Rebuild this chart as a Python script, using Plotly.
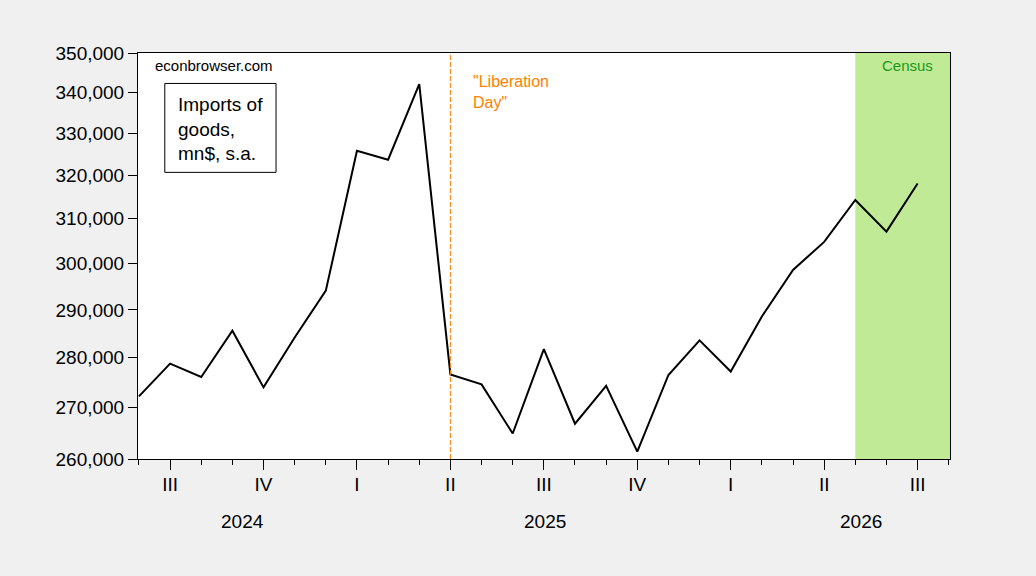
import plotly.graph_objects as go

# ---- data ----
months = ["2024-06", "2024-07", "2024-08", "2024-09", "2024-10", "2024-11", "2024-12",
          "2025-01", "2025-02", "2025-03", "2025-04", "2025-05", "2025-06", "2025-07",
          "2025-08", "2025-09", "2025-10", "2025-11", "2025-12", "2026-01", "2026-02",
          "2026-03", "2026-04", "2026-05", "2026-06", "2026-07"]
imports = [272200, 278800, 276100, 285600, 274000, 284200, 294100,
           325800, 323700, 342100, 276600, 274600, 264900, 281800,
           266800, 274300, 261400, 276500, 283600, 277200, 288600,
           298600, 304800, 314300, 307100, 318100]
quarter_labels = ["III", "IV", "I", "II", "III", "IV", "I", "II", "III"]
quarter_idx = [1, 4, 7, 10, 13, 16, 19, 22, 25]
year_labels = ["2024", "2025", "2026"]
year_pos = [3.32, 13.05, 23.17]
y_ticks = [260000, 270000, 280000, 290000, 300000, 310000, 320000, 330000, 340000, 350000]
liberation_idx = 10
census_start_idx = 23

x = list(range(len(imports)))
x_range = [-0.03, 26.04]

fig = go.Figure()
fig.add_trace(go.Scatter(x=x, y=imports, mode="lines",
                         line=dict(color="black", width=2),
                         text=months, hoverinfo="text+y", showlegend=False))

FONT = "Liberation Sans, Arial, sans-serif"

fig.update_layout(
    width=1036, height=576,
    paper_bgcolor="#f0f0f0", plot_bgcolor="white",
    margin=dict(l=137.5, r=86, t=52.7, b=116.7, autoexpand=False),
    font=dict(family=FONT, size=19, color="black"),
    showlegend=False,
    xaxis=dict(range=x_range, showgrid=False, zeroline=False,
               tickvals=quarter_idx, ticktext=quarter_labels,
               ticks="outside", ticklen=10, tickwidth=1, tickcolor="black",
               showline=True, linecolor="black", linewidth=1, mirror=True,
               tickfont=dict(size=19, color="black"), ticklabelstandoff=-2,
               minor=dict(dtick=1, tick0=0, ticks="outside", ticklen=5,
                          tickwidth=1, tickcolor="black", showgrid=False)),
    yaxis=dict(type="log", range=[5.414973, 5.544068], showgrid=False, zeroline=False,
               tickvals=y_ticks, tickformat=",d",
               ticks="outside", ticklen=9, tickwidth=1, tickcolor="black",
               showline=True, linecolor="black", linewidth=1, mirror=True,
               tickfont=dict(size=19, color="black")),
)

# Census shading
fig.add_shape(type="rect", xref="x", yref="paper",
              x0=census_start_idx, x1=x_range[1], y0=0, y1=1,
              fillcolor="rgb(192,234,150)", line=dict(width=0), layer="below")

# Liberation Day line
fig.add_shape(type="line", xref="x", yref="paper",
              x0=liberation_idx, x1=liberation_idx, y0=0, y1=1,
              line=dict(color="#ff8000", width=1, dash="5px,2px"))

# Box around series label
fig.add_shape(type="rect", xref="paper", yref="paper",
              x0=0.033, x1=0.170, y0=0.706, y1=0.925,
              line=dict(color="black", width=1), fillcolor="white")

fig.add_annotation(xref="paper", yref="paper", x=0.047, y=0.812,
                   xanchor="left", yanchor="middle", align="left", showarrow=False,
                   text="Imports of<br>goods,<br>mn$, s.a.",
                   font=dict(size=19, color="black", family=FONT))

fig.add_annotation(xref="paper", yref="paper", x=0.0185, y=0.968,
                   xanchor="left", yanchor="middle", showarrow=False,
                   text="econbrowser.com",
                   font=dict(size=15, color="black", family=FONT))

fig.add_annotation(xref="paper", yref="paper", x=0.4095, y=0.904,
                   xanchor="left", yanchor="middle", align="left", showarrow=False,
                   text="\"Liberation<br>Day\"",
                   font=dict(size=16, color="#ff8000", family=FONT))

fig.add_annotation(xref="paper", yref="paper", x=0.981, y=0.968,
                   xanchor="right", yanchor="middle", showarrow=False,
                   text="Census",
                   font=dict(size=15, color="#1a9a1a", family=FONT))

for lab, pos in zip(year_labels, year_pos):
    fig.add_annotation(xref="x", yref="paper", x=pos, y=-0.1535,
                       xanchor="center", yanchor="middle", showarrow=False,
                       text=lab, font=dict(size=19, color="black", family=FONT))

fig.write_html("out.html",
               config={"displayModeBar": False},
               post_script="document.body.style.margin='0px';"
                           "document.body.style.background='#f0f0f0';")
